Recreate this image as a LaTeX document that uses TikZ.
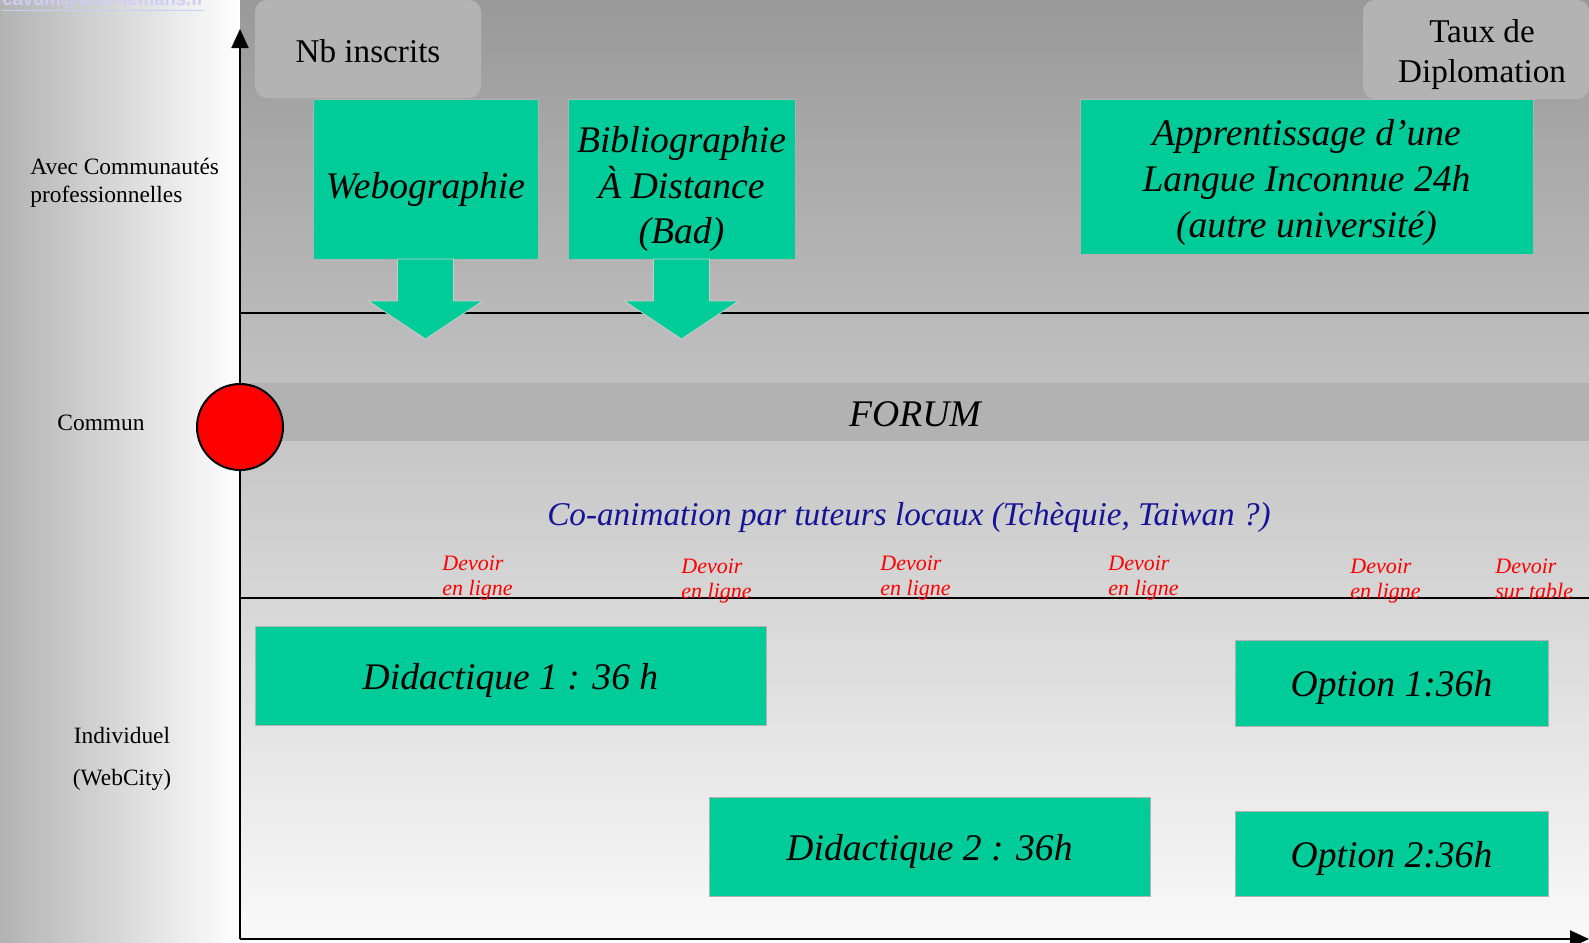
\documentclass[tikz,border=0pt]{standalone}
\usepackage{fontspec}
\setmainfont{Liberation Serif}
\newfontfamily\sanslien{Liberation Sans}
\usepackage{tikz}
\usetikzlibrary{arrows.meta,calc}
\definecolor{vertbloc}{HTML}{00CC99}
\definecolor{grisboite}{HTML}{B3B3B3}
\definecolor{grisforum}{HTML}{B2B2B2}
\definecolor{bleuanim}{HTML}{141497}
\definecolor{rougedev}{HTML}{FF0000}
\definecolor{lienpale}{HTML}{CDCDFA}
\tikzset{
  bloc/.style={draw=black!30,fill=vertbloc,line width=0.5pt},
  titre/.style={align=center,inner sep=0pt,font=\fontsize{18.8}{22.8}\selectfont\itshape},
  fleche/.style={fill=vertbloc,draw=black!20,line width=0.4pt},
  compteur/.style={fill=grisboite,rounded corners=6pt},
  compte/.style={align=center,inner sep=0pt,font=\fontsize{16.6}{20}\selectfont},
  niveau/.style={align=left,inner sep=0pt,font=\fontsize{11.7}{14}\selectfont},
  devoir/.style={anchor=west,align=left,text=rougedev,inner sep=0pt,font=\fontsize{11}{12.5}\selectfont\itshape},
  axe/.style={draw=black,line width=1pt,-{Triangle[length=9.5pt,width=8.5pt]}},
  trait/.style={draw=black,line width=1pt},
  jalon/.style={circle,draw=black,fill=red,line width=1pt,minimum size=43pt,inner sep=0pt},
}
\begin{document}
\begin{tikzpicture}[x=0.5pt,y=-0.5pt]
\useasboundingbox (0,0) rectangle (1589,942);
% fonds
\shade[left color=black!30,right color=white] (0,0) rectangle (240,942);
\shade[top color=black!40,bottom color=black!2] (240,0) rectangle (1589,942);
\fill[grisforum] (240,383) rectangle (1589,441);
\node[anchor=base west,inner sep=0pt,text=lienpale,font=\sanslien\bfseries\fontsize{9.2}{11}\selectfont] (lien) at (2,5) {\underline{cavum@univ-lemans.fr}};
\coordinate (origine) at (240,939);
\coordinate (haut) at (240,29);
\coordinate (droite) at (1589,939);
\coordinate (g1) at (240,313);
\coordinate (d1) at (1589,313);
\coordinate (g2) at (240,598);
\coordinate (d2) at (1589,598);
\draw[trait] (g1) -- (d1);
\draw[trait] (g2) -- (d2);
\draw[axe] (origine) -- (haut);
\draw[axe] (origine) -- (droite);
\node[jalon] (rond) at (240,427) {};
% cases grises
\fill[compteur] (255,0) rectangle (481,98);
\node[compte] (nb) at (368,51) {Nb inscrits};
\fill[compteur] (1363,0) rectangle (1589,99);
\node[compte] (taux) at (1482,55) {Taux de\\Diplomation};
% cases vertes
\draw[bloc] (313,99) rectangle (538,259);
\node[titre] (webo) at (425.5,189.5) {Webographie};
\draw[bloc] (568,99) rectangle (795,259);
\node[titre] (biblio) at (681.5,189) {Bibliographie\\À Distance\\(Bad)};
\draw[bloc] (1080,99) rectangle (1533,254);
\node[titre] (langue) at (1306.5,182.5) {Apprentissage d’une\\Langue Inconnue 24h\\(autre université)};
\foreach \x in {425.5,681.5}
  \fill[fleche] (\x-28,259) -- (\x-28,301) -- (\x-57,301) -- (\x,339)
    -- (\x+57,301) -- (\x+28,301) -- (\x+28,259) -- cycle;
\draw[bloc] (255,626) rectangle (766,725);
\node[titre] (dida1) at (510.5,680.5) {Didactique 1 : 36 h};
\draw[bloc] (709,797) rectangle (1150,896);
\node[titre] (dida2) at (929.5,851.5) {Didactique 2 : 36h};
\draw[bloc] (1235,640) rectangle (1548,726);
\node[titre] (opt1) at (1391.5,687) {Option 1:36h};
\draw[bloc] (1235,811) rectangle (1548,896);
\node[titre] (opt2) at (1391.5,858.5) {Option 2:36h};
% forum et devoirs
\node[font=\fontsize{18.8}{22}\selectfont\itshape] (forum) at (915,414) {FORUM};
\node[text=bleuanim,font=\fontsize{16.6}{20}\selectfont\itshape] (anim) at (909,517) {Co-animation par tuteurs locaux (Tchèquie, Taiwan ?)};
\node[devoir] (dev1) at (442,578.5) {Devoir\\en ligne};
\node[devoir] (dev2) at (681,581) {Devoir\\en ligne};
\node[devoir] (dev3) at (880,578.5) {Devoir\\en ligne};
\node[devoir] (dev4) at (1108,578.5) {Devoir\\en ligne};
\node[devoir] (dev5) at (1350,581) {Devoir\\en ligne};
\node[devoir] (dev6) at (1495,578.5) {Devoir\\sur table};
% niveaux
\node[niveau,anchor=west] (avec) at (30,183) {Avec Communautés\\professionnelles};
\node[niveau] (commun) at (101,423) {Commun};
\node[niveau,align=center,font=\fontsize{11.7}{21}\selectfont] (indiv) at (122,758.5) {Individuel\\(WebCity)};
\end{tikzpicture}
\end{document}
